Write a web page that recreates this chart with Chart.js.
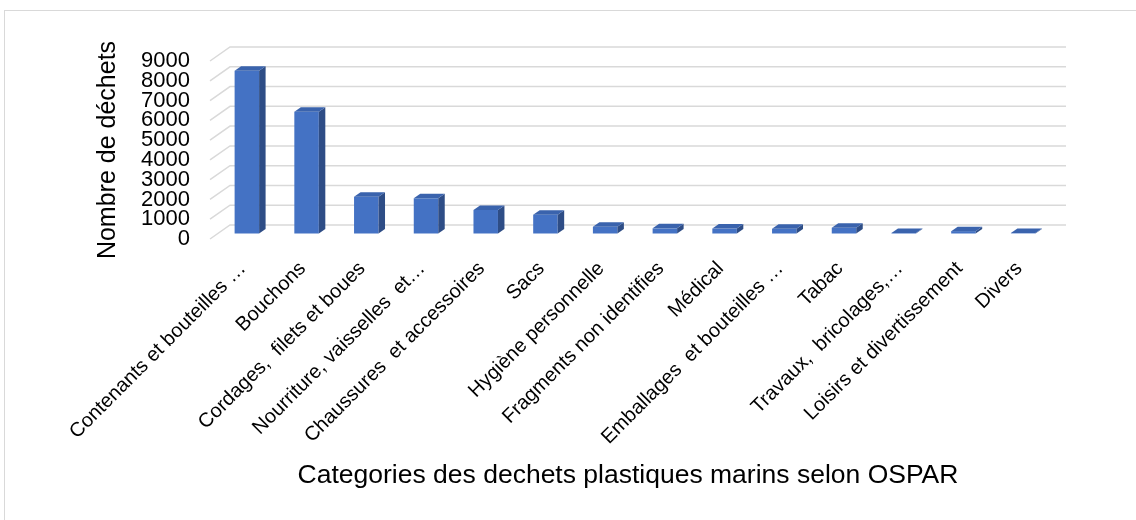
<!DOCTYPE html>
<html>
<head>
<meta charset="utf-8">
<title>Déchets plastiques marins</title>
<script src="https://cdn.jsdelivr.net/npm/chart.js@4.4.1/dist/chart.umd.min.js"></script>
<style>
  html, body { margin: 0; padding: 0; background: #fff; overflow: hidden; }
  #wrap { position: relative; width: 1136px; height: 520px; }
  #frame {
    position: absolute; left: 4px; top: 10px; width: 1200px; height: 600px;
    border-left: 1.5px solid #d9d9d9; border-top: 1.5px solid #d9d9d9;
  }
  canvas { position: absolute; left: 0; top: 0; }
</style>
</head>
<body>
<div id="wrap">
  <div id="frame"></div>
  <canvas id="dechets-chart" width="1136" height="520"></canvas>
</div>
<script>
// Catégories OSPAR et nombre de déchets relevés
const categories = [
    'Contenants et bouteilles …',
    'Bouchons',
    'Cordages,  filets et boues',
    'Nourriture, vaisselles  et…',
    'Chaussures  et accessoires',
    'Sacs',
    'Hygiène personnelle',
    'Fragments non identifies',
    'Médical',
    'Emballages  et bouteilles …',
    'Tabac',
    'Travaux,  bricolages,…',
    'Loisirs et divertissement',
    'Divers'
];
const counts = [8230, 6160, 1860, 1780, 1190, 950, 340, 260, 250, 240, 290, 30, 120, 20];

const yMax = 9000;
const yStep = 1000;

const FONT = "'Liberation Sans', Arial, sans-serif";

// couleurs des faces des colonnes
const frontColor = '#4472C4';
const sideColor = '#2E4D86';
const topColor = '#3A63AD';

// décalages pour l'effet 3D (mur du fond, position des colonnes, profondeur)
const wallShift = { x: 20, y: -14 };
const barShift = { x: 7, y: -5.5 };
const barDepth = { x: 6.5, y: -4.5 };

const depthPlugin = {
    id: 'depth3d',
    beforeDatasetsDraw(chart) {
        const { ctx, chartArea, scales: { y } } = chart;
        // quadrillage du mur du fond
        ctx.save();
        ctx.strokeStyle = '#d9d9d9';
        ctx.lineWidth = 1.5;
        y.ticks.forEach(t => {
            const py = y.getPixelForValue(t.value);
            ctx.beginPath();
            ctx.moveTo(chartArea.left, py);
            ctx.lineTo(chartArea.left + wallShift.x, py + wallShift.y);
            ctx.lineTo(chartArea.right + wallShift.x, py + wallShift.y);
            ctx.stroke();
        });
        ctx.restore();

        // les colonnes sont dessinées un peu en retrait
        ctx.save();
        ctx.translate(barShift.x, barShift.y);
    },
    afterDatasetsDraw(chart) {
        const { ctx } = chart;
        chart.getDatasetMeta(0).data.forEach(bar => {
            const { x, y, base, width } = bar.getProps(['x', 'y', 'base', 'width'], true);
            const l = x - width / 2;
            const r = x + width / 2;

            // face latérale
            ctx.fillStyle = sideColor;
            ctx.beginPath();
            ctx.moveTo(r, y);
            ctx.lineTo(r + barDepth.x, y + barDepth.y);
            ctx.lineTo(r + barDepth.x, base + barDepth.y);
            ctx.lineTo(r, base);
            ctx.closePath();
            ctx.fill();

            // dessus
            ctx.fillStyle = topColor;
            ctx.beginPath();
            ctx.moveTo(l, y);
            ctx.lineTo(r, y);
            ctx.lineTo(r + barDepth.x, y + barDepth.y);
            ctx.lineTo(l + barDepth.x, y + barDepth.y);
            ctx.closePath();
            ctx.fill();
        });
        ctx.restore();
    }
};

const chart = new Chart(document.getElementById('dechets-chart'), {
    type: 'bar',
    data: {
        labels: categories,
        datasets: [{
            label: 'Nombre de déchets',
            data: counts,
            backgroundColor: frontColor,
            borderWidth: 0,
            categoryPercentage: 1,
            barPercentage: 0.41,
            clip: false
        }]
    },
    options: {
        responsive: false,
        animation: false,
        devicePixelRatio: 1,
        layout: {
            autoPadding: false,
            padding: { left: 0, top: 61, right: 90, bottom: 0 }
        },
        plugins: {
            legend: { display: false },
            tooltip: { enabled: false }
        },
        scales: {
            x: {
                grid: { display: false, drawTicks: false },
                border: { display: false },
                ticks: {
                    autoSkip: false,
                    minRotation: 45,
                    maxRotation: 45,
                    padding: 18,
                    labelOffset: 3,
                    color: '#000',
                    font: { family: FONT, size: 20 }
                },
                title: {
                    display: true,
                    text: 'Categories des dechets plastiques marins selon OSPAR',
                    color: '#000',
                    font: { family: FONT, size: 26.5 },
                    padding: { top: 0, bottom: 28 }
                },
                afterFit(scale) { scale.height = 281; }
            },
            y: {
                min: 0,
                max: yMax,
                grid: { display: false, drawTicks: false },
                border: { display: false },
                ticks: {
                    stepSize: yStep,
                    autoSkip: false,
                    padding: 20,
                    color: '#000',
                    font: { family: FONT, size: 22 },
                    callback: v => String(v)
                },
                title: {
                    display: true,
                    text: 'Nombre de déchets',
                    color: '#000',
                    font: { family: FONT, size: 25 },
                    padding: { top: 93, bottom: 0 }
                },
                afterFit(scale) { scale.width = 210; }
            }
        }
    },
    plugins: [depthPlugin]
});
</script>
</body>
</html>
